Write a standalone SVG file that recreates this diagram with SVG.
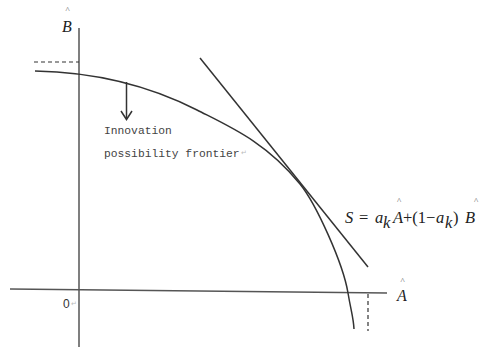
<svg xmlns="http://www.w3.org/2000/svg" width="482" height="347" viewBox="0 0 482 347">
<style>
.ax{stroke:#555;stroke-width:1.5;fill:none}
.ln{stroke:#333;stroke-width:1.5;fill:none}
.dash{stroke:#333;stroke-width:1.2;stroke-dasharray:4 3;fill:none}
.lbl{font-family:"Liberation Serif",serif;font-style:italic;font-size:16px;fill:#222}
.hat{font-family:"Liberation Serif",serif;font-size:9px;fill:#555}
.note{font-family:"Liberation Mono",monospace;font-size:11.3px;fill:#444}
.ret{fill:#bbb;font-family:"DejaVu Sans",sans-serif}
.eq{font-family:"Liberation Serif",serif;font-size:16.5px;fill:#222}
</style>
<g id="axes">
<line class="ax" x1="79" y1="28" x2="79" y2="347"/>
<line class="ax" x1="10" y1="289" x2="387" y2="293"/>
</g>
<g id="axis-B">
<text class="hat" x="65.5" y="13">^</text>
<text class="lbl" x="62" y="32">B</text>
</g>
<g id="axis-A">
<text class="hat" x="400.5" y="284">^</text>
<text class="lbl" x="397" y="301">A</text>
</g>
<g id="origin">
<text x="63" y="308" font-family="Liberation Sans,sans-serif" font-size="12" fill="#333">0</text>
<text class="ret" x="71" y="306" font-size="7">↵</text>
</g>
<g id="frontier">
<path class="ln" d="M35,71 C89,72 143,82.5 197,110 C231,127.3 266,142.2 300,184 C316,203.8 343,263 348,293 C351,311 353.5,318 354,329"/>
</g>
<g id="tangent">
<line class="ln" x1="200" y1="58" x2="368" y2="267"/>
</g>
<g id="connectors">
<line class="dash" x1="34" y1="62" x2="79" y2="62"/>
<line class="dash" x1="368" y1="294" x2="368" y2="331"/>
<line class="ln" x1="126.5" y1="82" x2="126.5" y2="119"/>
<polyline class="ln" points="121,111 126.5,119.5 132,111"/>
</g>
<g id="label-frontier">
<text class="note" x="104" y="134">Innovation</text>
<text class="note" x="104" y="157">possibility frontier</text>
<text class="ret" x="241" y="155" font-size="7">↵</text>
</g>
<g id="equation">
<text class="eq" x="345" y="223" font-style="italic">S</text>
<text class="eq" x="359" y="223">=</text>
<text class="eq" x="375" y="223" font-style="italic">a</text>
<text class="eq" x="383" y="228" font-size="10" font-style="italic">k</text>
<text class="hat" x="397" y="204">^</text>
<text class="eq" x="393" y="223" font-style="italic">A</text>
<text class="eq" x="403" y="223">+(1−</text>
<text class="eq" x="436" y="223" font-style="italic">a</text>
<text class="eq" x="445" y="228" font-size="10" font-style="italic">k</text>
<text class="eq" x="453" y="223">)</text>
<text class="hat" x="474" y="204">^</text>
<text class="eq" x="465" y="223" font-style="italic">B</text>
</g>
</svg>
